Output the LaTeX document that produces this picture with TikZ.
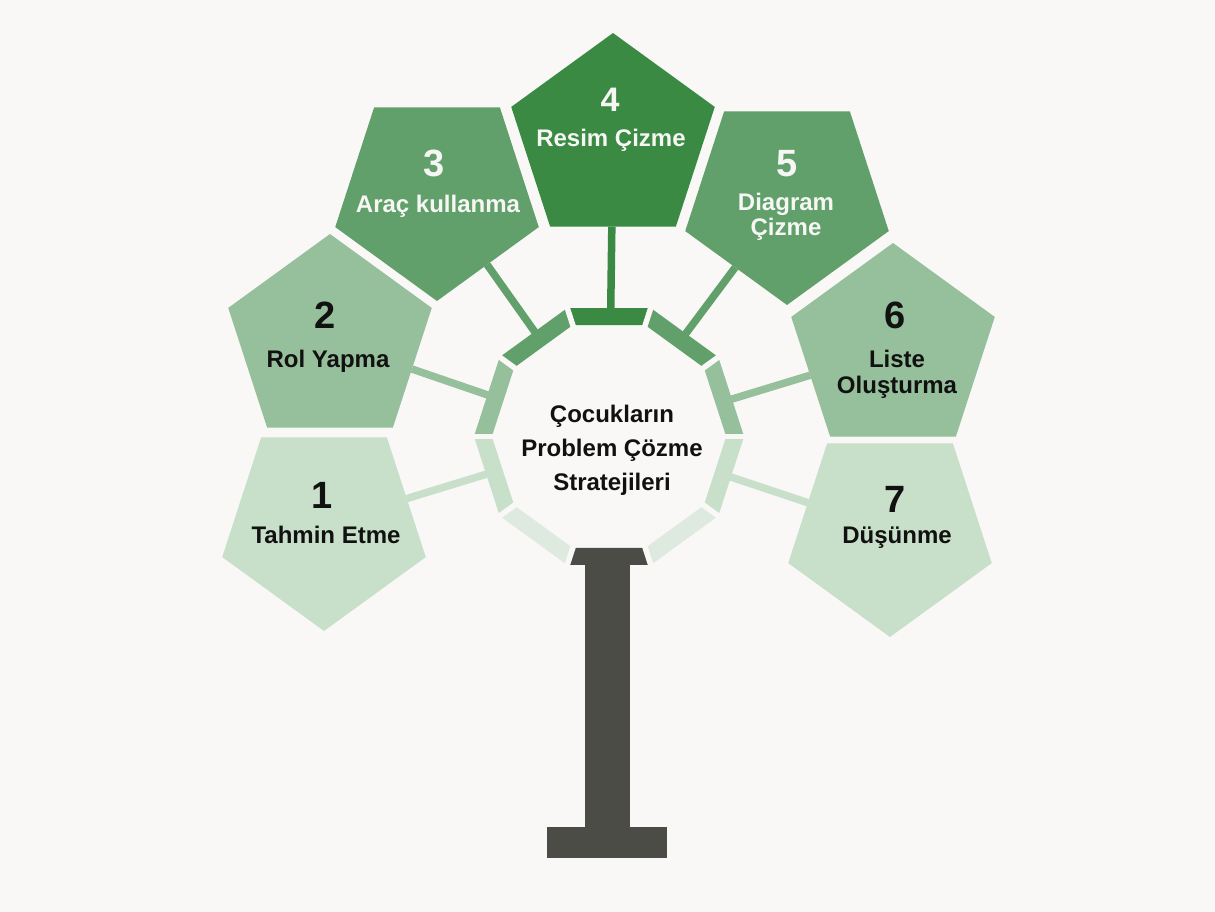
\documentclass[tikz,border=0pt]{standalone}
\usepackage{fontspec}
\setmainfont{Liberation Sans}
\usetikzlibrary{shapes.geometric,calc}
\definecolor{bg}{HTML}{F9F8F6}
\definecolor{gdark}{HTML}{3A8A44}
\definecolor{gmid}{HTML}{62A06B}
\definecolor{glight}{HTML}{96BF9B}
\definecolor{gpale}{HTML}{C8DFCA}
\definecolor{gfaint}{HTML}{DEEADF}
\definecolor{pillar}{HTML}{4C4C46}
\definecolor{ink}{HTML}{111111}
\definecolor{inkw}{HTML}{F6F6F4}

\begin{document}
\begin{tikzpicture}[x=1pt,y=-1pt,
  petal/.style={regular polygon, regular polygon sides=5, minimum size=214pt,
    inner sep=0pt, outer sep=0pt, fill=#1},
  petaldown/.style={petal=#1, shape border rotate=180},
  link/.style={line width=7.5pt, draw=#1},
  numtxt/.style={font=\bfseries\fontsize{38}{38}\selectfont, anchor=base,
    inner sep=0pt, text=ink},
  labtxt/.style={font=\bfseries\fontsize{24}{25.5}\selectfont, anchor=base,
    inner sep=0pt, align=center, text=ink},
]
\fill[bg] (0,0) rectangle (1215,912);
\useasboundingbox (0,0) rectangle (1215,912);

% hub centre
\coordinate (C) at (609,436.5);

% the seven pentagons
\node[petaldown=gpale]  (p1) at (324,524) {};
\node[petal=glight]     (p2) at (330,341) {};
\node[petaldown=gmid]   (p3) at (437,194) {};
\node[petal=gdark]      (p4) at (613,140) {};
\node[petaldown=gmid]   (p5) at (787,198) {};
\node[petal=glight]     (p6) at (893,350) {};
\node[petaldown=gpale]  (p7) at (890,530) {};

% connectors from the ring to each pentagon
\foreach \i/\c in {1/gpale,2/glight,3/gmid,4/gdark,5/gmid,6/glight,7/gpale}{
  \coordinate (s\i) at ($(C)!122pt!(p\i.center)$);
  \draw[link=\c] (s\i) -- (p\i);
}

% decagonal ring
\foreach \a/\c in {90/gdark,126/gmid,54/gmid,162/glight,18/glight,
                   198/gpale,-18/gpale,234/gfaint,-54/gfaint,270/pillar}
  \fill[\c] ($(C)+(-\a-18:135.1)$) -- ($(C)+(-\a+18:135.1)$)
         -- ($(C)+(-\a+18:117.2)$) -- ($(C)+(-\a-18:117.2)$) -- cycle;
\foreach \a in {0,36,...,324}
  \draw[bg, line width=5.5pt] ($(C)+(-\a:112)$) -- ($(C)+(-\a:141)$);

% stand
\fill[pillar] (585,562) rectangle (630,828);
\fill[pillar] (547,827) rectangle (667,858);

% texts (multi-line nodes sit on the baseline of their last line)
\node[labtxt, font=\bfseries\fontsize{24}{34}\selectfont] (hub) at (612,490)
  {Çocukların\\Problem Çözme\\Stratejileri};

\node[numtxt] (n1) at (322,508) {1};
\node[labtxt] (t1) at (326,543) {Tahmin Etme};
\node[numtxt] (n2) at (325,328) {2};
\node[labtxt] (t2) at (328,367) {Rol Yapma};
\node[numtxt, text=inkw] (n3) at (434,177) {3};
\node[labtxt, text=inkw] (t3) at (438,213) {Araç kullanma};
\node[numtxt, text=inkw, font=\bfseries\fontsize{34}{34}\selectfont] (n4) at (610,112) {4};
\node[labtxt, text=inkw] (t4) at (611,147) {Resim Çizme};
\node[numtxt, text=inkw] (n5) at (787,177) {5};
\node[labtxt, text=inkw] (t5) at (786,236) {Diagram\\Çizme};
\node[numtxt] (n6) at (895,328) {6};
\node[labtxt] (t6) at (897,393) {Liste\\Oluşturma};
\node[numtxt] (n7) at (895,512) {7};
\node[labtxt] (t7) at (897,543) {Düşünme};
\end{tikzpicture}
\end{document}
